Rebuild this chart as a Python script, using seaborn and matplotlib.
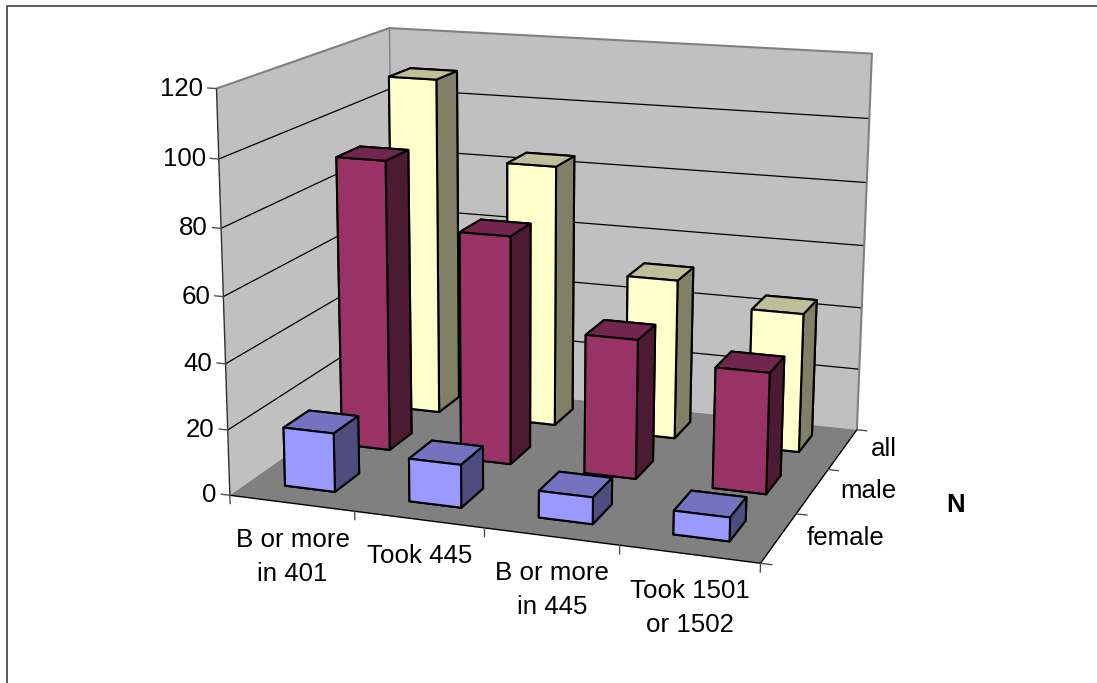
import numpy as np
import pandas as pd
import matplotlib
matplotlib.use('Agg')
import matplotlib.pyplot as plt
from matplotlib.lines import Line2D
from mpl_toolkits.mplot3d.art3d import Poly3DCollection
import seaborn as sns

categories = ['B or more\nin 401', 'Took 445', 'B or more\nin 445', 'Took 1501\nor 1502']
series = ['female', 'male', 'all']
female = [18, 13, 8, 7]
male = [91, 71, 43, 37]
all_n = [109, 84, 51, 44]
z_ticks = [0, 20, 40, 60, 80, 100, 120]
front_colors = ['#9999FF', '#993366', '#FFFFCC']

df = pd.DataFrame({'female': female, 'male': male, 'all': all_n}, index=categories)

sns.set_theme(style='white')
plt.rcParams['font.family'] = ['Liberation Sans', 'DejaVu Sans']

W, H = 1097, 683
fig = plt.figure(figsize=(W / 100, H / 100), dpi=100)
ax = fig.add_axes([0, 0, 1, 1], projection='3d', computed_zorder=False)
ax.apply_aspect = lambda position=None: None  # keep the whole figure, not a square
ax.set_axis_off()

# camera fitted to where the box corners sit in the picture
# world (category, series, value) -> pixel
world = np.array([[0, 0, 0], [4, 0, 0], [4, 3, 0], [0, 3, 0], [0, 0, 120], [0, 3, 120], [4, 3, 120],
                  [0, 0, 60], [1, 0, 0], [2, 0, 0], [3, 0, 0], [4, 1, 0], [4, 2, 0], [4, 3, 100]], float)
pixel = np.array([[232, 493], [759, 565], [857, 427], [392, 383], [215, 89], [391, 27.5], [872, 55],
                  [223, 295], [355, 511], [485, 529], [619, 547], [797, 513], [829, 469], [869, 118]], float)
rows, rhs = [], []
for (a, b, c), (u, v) in zip(world, pixel):
    rows.append([a, b, c, 1, 0, 0, 0, 0, -u * a, -u * b, -u * c])
    rows.append([0, 0, 0, 0, a, b, c, 1, -v * a, -v * b, -v * c])
    rhs += [u, v]
p = np.linalg.lstsq(np.array(rows), np.array(rhs), rcond=None)[0]
cam = np.append(p, 1).reshape(3, 4)


def fitted_proj():
    # pixel (top-left origin) -> display -> the 2d data coords mplot3d expects
    to_disp = np.array([[1, 0, 0], [0, -1, H], [0, 0, 1]], float)
    to_view = ax.transData.inverted().get_matrix() @ to_disp
    q = to_view @ cam
    return np.array([q[0], q[1], [0, 0, 0, -1], q[2]])


def label(a, b, c, text, dx=0, dy=0, **kw):
    # put a flat label next to a box point, dx/dy in pixels
    u, v, w = cam @ np.array([a, b, c, 1.0])
    fig.text((u / w + dx) / W, 1 - (v / w + dy) / H, text, fontsize=fs, color='black', **kw)


ax.get_proj = fitted_proj
ax.set_xlim(0, 4)
ax.set_ylim(0, 3)
ax.set_zlim(0, 120)

# walls and floor
x0, x1, y0, y1, z1 = 0, len(categories), 0, len(series), z_ticks[-1]
left_wall = [(x0, y0, 0), (x0, y1, 0), (x0, y1, z1), (x0, y0, z1)]
back_wall = [(x0, y1, 0), (x1, y1, 0), (x1, y1, z1), (x0, y1, z1)]
floor = [(x0, y0, 0), (x1, y0, 0), (x1, y1, 0), (x0, y1, 0)]
ax.add_collection3d(Poly3DCollection([left_wall, back_wall], facecolor='#C0C0C0', edgecolor='none', zorder=1))
ax.add_collection3d(Poly3DCollection([floor], facecolor='#808080', edgecolor='none', zorder=1))

for z in z_ticks[1:-1]:
    ax.plot([x0, x0, x1], [y0, y1, y1], [z, z, z], color='black', lw=0.9, zorder=2)
ax.plot([x0, x0, x1, x1], [y0, y1, y1, y1], [z1, z1, z1, 0], color='#808080', lw=1.5, zorder=2)
ax.plot([x0, x0], [y1, y1], [0, z1], color='#808080', lw=1.0, zorder=2)
ax.plot([x0, x0], [y0, y0], [0, z1], color='#303030', lw=1.0, zorder=2)
ax.plot([x0, x1, x1], [y0, y0, y1], [0, 0, 0], color='black', lw=1.0, zorder=2)

# ticks
for z in z_ticks:
    ax.plot([x0, x0 - 0.07], [y0, y0], [z, z], color='#505050', lw=1.0, zorder=2)
for i in range(x1 + 1):
    ax.plot([i, i], [y0, y0], [0, -2.6], color='#505050', lw=1.0, zorder=2)
for j in range(y1 + 1):
    ax.plot([x1, x1 + 0.08], [j, j], [0, 0], color='#505050', lw=1.0, zorder=2)

# bars, back row first
bar_w, bar_d = 0.405, 0.43
for j in [2, 1, 0]:
    name = series[j]
    base = np.array(sns.color_palette(front_colors))[j]
    face_colors = [base * 0.75, base * 0.75, base, base * 0.5, base * 0.5, base * 0.5]
    xs = np.arange(len(categories)) + 0.29
    ys = np.full(len(categories), j + 0.32)
    ax.bar3d(xs, ys, np.zeros(len(categories)), bar_w, bar_d, df[name].values,
             color=np.tile(np.array(face_colors), (len(categories), 1)),
             shade=False, edgecolor='black', linewidth=1.5, zorder=5 - j)

fs = 18.6
for z in z_ticks:
    label(x0, y0, z, str(z), dx=-13, ha='right', va='center')
for i, lab in enumerate(categories):
    label(i + 0.5, y0, 0, lab, dx=1, dy=25, ha='center', va='top', linespacing=1.5)
for j, lab in enumerate(series):
    label(x1, j + 0.5, 0, lab, dx=28, ha='left', va='center')
fig.text(956 / W, 1 - 505 / H, 'N', ha='center', va='center', fontsize=fs, fontweight='bold', color='black')

# chart frame: only the top and left edges fall inside the picture
fig.add_artist(Line2D([7 / W, 7 / W, 1], [0, 1 - 5.5 / H, 1 - 5.5 / H], transform=fig.transFigure,
                      color='#404040', lw=1.2))

fig.savefig('out.png', dpi=100)
